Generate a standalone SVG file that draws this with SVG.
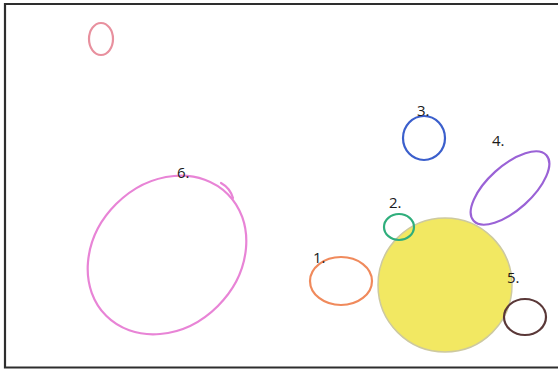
<svg xmlns="http://www.w3.org/2000/svg" width="558" height="371" viewBox="0 0 558 371">
<style>
.lbl{font-family:"Open Sans","Liberation Sans",sans-serif;font-size:15px;fill:#1a1a1a}
.ring{fill:none;stroke-width:2.2;stroke-linecap:round}
</style>
<rect x="0" y="0" width="558" height="371" fill="#ffffff"/>
<path d="M560 4 H5 V367.5 H560" fill="none" stroke="#2e2e2e" stroke-width="2.2"/>
<g id="pink-small"><ellipse class="ring" cx="101" cy="39" rx="12" ry="16" stroke="#e8909e"/></g>
<g id="n6">
<ellipse class="ring" cx="167" cy="255" rx="86" ry="72" transform="rotate(-45 167 255)" stroke="#e884d6" stroke-width="2.5"/>
<path class="ring" d="M221 183 Q230 188 233 198" stroke="#e884d6" stroke-width="1.6"/>
<text class="lbl" x="177" y="178">6.</text>
</g>
<g id="n3">
<ellipse class="ring" cx="424" cy="138" rx="21" ry="22" stroke="#3b5fcc"/>
<text class="lbl" x="417" y="116">3.</text>
</g>
<g id="n4">
<ellipse class="ring" cx="510" cy="188" rx="49" ry="22" transform="rotate(-42 510 188)" stroke="#9a62d6"/>
<text class="lbl" x="492" y="146">4.</text>
</g>
<g id="sun"><circle cx="445" cy="285" r="67" fill="#f2e862" stroke="#cdc9a0" stroke-width="1.5"/></g>
<g id="n2">
<ellipse class="ring" cx="399" cy="227" rx="15" ry="13" stroke="#2fae7c"/>
<text class="lbl" x="389" y="208">2.</text>
</g>
<g id="n1">
<ellipse class="ring" cx="341" cy="281" rx="31" ry="24" stroke="#f08a5c"/>
<text class="lbl" x="313" y="263">1.</text>
</g>
<g id="n5">
<ellipse class="ring" cx="525" cy="317" rx="21" ry="18" stroke="#5a3838"/>
<text class="lbl" x="507" y="283">5.</text>
</g>
</svg>
